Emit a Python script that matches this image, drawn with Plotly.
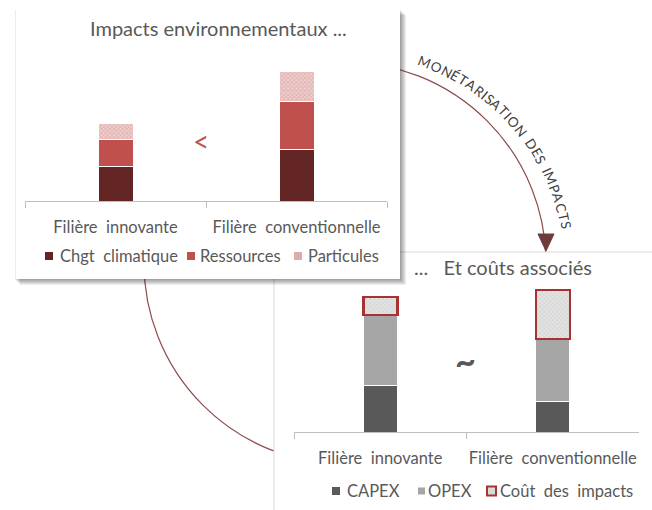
import math
import plotly.graph_objects as go

# ---------------- data ----------------
categories = ["Filière innovante", "Filière conventionnelle"]

impact_names = ["Chgt climatique", "Ressources", "Particules"]
chgt_climatique = [35, 52]
ressources = [27, 48]
particules = [16, 30]

cost_names = ["CAPEX", "OPEX", "Coût des impacts"]
capex = [47, 31]
opex = [70, 62]
cout_impacts = [18, 49]

title_top = "Impacts environnementaux ..."
title_bottom = "...  Et coûts associés"
arc_label = "MONÉTARISATION DES IMPACTS"
compare_top = "<"
compare_bottom = "~"

# ---------------- helpers ----------------
W, H = 652, 510
FONT = "Lato, 'Open Sans', sans-serif"
GREY_TXT = "#595959"


def X(px):
    return px / W


def Y(py):
    return 1 - py / H


def wide(s):
    # the reference uses a wide word spacing
    return s.replace(" ", "\u00a0 ")


fig = go.Figure()

# --- top chart bars ---
top_width = 35 / 181
fig.add_trace(go.Bar(x=categories, y=chgt_climatique, name=impact_names[0],
                     marker=dict(color="#632523", line=dict(color="white", width=1)),
                     width=top_width, xaxis="x", yaxis="y", showlegend=False))
fig.add_trace(go.Bar(x=categories, y=ressources, name=impact_names[1],
                     marker=dict(color="#C0504D", line=dict(color="white", width=1)),
                     width=top_width, xaxis="x", yaxis="y", showlegend=False))
fig.add_trace(go.Bar(x=categories, y=particules, name=impact_names[2],
                     marker=dict(color="#EBC4C3", line=dict(color="white", width=1),
                                 pattern=dict(shape="x", fgcolor="#D38C8A", bgcolor="#EFD3D2",
                                              size=3, solidity=0.5)),
                     width=top_width, xaxis="x", yaxis="y", showlegend=False))

# --- bottom chart bars ---
bot_width = 34 / 172.5
fig.add_trace(go.Bar(x=categories, y=capex, name=cost_names[0],
                     marker=dict(color="#595959", line=dict(color="white", width=1)),
                     width=bot_width, xaxis="x2", yaxis="y2", showlegend=False))
fig.add_trace(go.Bar(x=categories, y=opex, name=cost_names[1],
                     marker=dict(color="#A6A6A6", line=dict(color="white", width=1)),
                     width=bot_width, xaxis="x2", yaxis="y2", showlegend=False))
fig.add_trace(go.Bar(x=categories, y=cout_impacts, name=cost_names[2],
                     marker=dict(color="#E3E3E3", line=dict(color="#A83232", width=2.5),
                                 pattern=dict(shape="x", fgcolor="#C4C4C4", bgcolor="#E6E6E6",
                                              size=3, solidity=0.5)),
                     width=bot_width, xaxis="x2", yaxis="y2", showlegend=False))

shapes = []

# --- big circular arc (partially hidden by the two boxes) ---
cx, cy, r = 345, 263, 201
shapes.append(dict(type="circle", xref="paper", yref="paper",
                   x0=X(cx - r), x1=X(cx + r), y0=Y(cy + r), y1=Y(cy - r),
                   line=dict(color="#8E4B4B", width=1.2), layer="below"))

# --- bottom box (white, light border) ---
shapes.append(dict(type="rect", xref="paper", yref="paper",
                   x0=X(274), x1=X(660), y0=Y(520), y1=Y(252),
                   fillcolor="white", line=dict(color="#D9D9D9", width=1), layer="below"))

# --- arrow head at end of arc ---
shapes.append(dict(type="path", xref="paper", yref="paper",
                   path=f"M {X(538)},{Y(234)} L {X(554)},{Y(234)} L {X(546)},{Y(251)} Z",
                   fillcolor="#6E3B3B", line=dict(color="#6E3B3B", width=1), layer="below"))

# --- top box with shadow ---
bx0, by0, bx1, by1 = 16, 10, 400, 279
for k in range(1, 7):
    shapes.append(dict(type="rect", xref="paper", yref="paper",
                       x0=X(bx0 + k - 2), x1=X(bx1 + k), y0=Y(by1 + k), y1=Y(by0 + k - 1),
                       fillcolor="rgba(0,0,0,0.07)", line=dict(width=0), layer="below"))
shapes.append(dict(type="rect", xref="paper", yref="paper",
                   x0=X(bx0), x1=X(bx1), y0=Y(by1), y1=Y(by0),
                   fillcolor="white", line=dict(width=0), layer="below"))

annotations = []


def text_at(text, px, py, size, color=GREY_TXT, xanchor="center", angle=0):
    annotations.append(dict(text=text, x=X(px), y=Y(py), xref="paper", yref="paper",
                            xanchor=xanchor, yanchor="middle", showarrow=False,
                            textangle=angle,
                            font=dict(family=FONT, size=size, color=color)))


# titles
text_at(title_top, 218, 28, 20)
text_at(title_bottom.replace("  ", "\u00a0\u00a0 "), 503, 267, 20)
# comparison signs
text_at(compare_top, 201, 141, 28, color="#C0504D")
text_at("<b>" + compare_bottom + "</b>", 465, 360, 36)


# legends (square + text)
def legend_item(sq_x0, sq_x1, yc, text_x, text, fill, line_color=None, line_w=0):
    half = (sq_x1 - sq_x0) / 2
    shapes.append(dict(type="rect", xref="paper", yref="paper",
                       x0=X(sq_x0), x1=X(sq_x1), y0=Y(yc + half), y1=Y(yc - half),
                       fillcolor=fill,
                       line=dict(color=line_color or fill, width=line_w), layer="above"))
    text_at(wide(text), text_x, yc, 16.5, xanchor="left")


legend_item(45, 53, 256, 58, impact_names[0], "#632523")
legend_item(187, 195, 256, 198, impact_names[1], "#C0504D")
legend_item(294, 302, 256, 306, impact_names[2], "#E0AAA9")
legend_item(332, 340, 491, 345, cost_names[0], "#595959")
legend_item(418, 425, 491, 426, cost_names[1], "#A6A6A6")
legend_item(487, 496, 491, 498, cost_names[2], "#D9D9D9", "#A83232", 2)

# curved label along the arc
char_w = {"M": 10.5, "O": 9.5, "N": 9.0, "É": 6.8, "E": 6.8, "T": 7.0, "A": 8.2,
          "R": 7.6, "I": 3.4, "S": 6.6, "D": 8.8, "P": 7.2, "C": 8.0, " ": 4.5}
widths = [char_w.get(c, 7.5) for c in arc_label]
centers = []
acc = 0.0
for w in widths:
    centers.append(acc + w / 2)
    acc += w
th0, th1 = -68.3, -9.7
for i, c in enumerate(arc_label):
    if c == " ":
        continue
    f = (centers[i] - centers[0]) / (centers[-1] - centers[0])
    th = th0 + f * (th1 - th0)
    rr = 216 + f * 8
    px = cx + rr * math.cos(math.radians(th))
    py = cy + rr * math.sin(math.radians(th))
    text_at(c, px, py, 13.5, color="#404040", angle=th + 90)

axis_common = dict(showline=True, linecolor="#BFBFBF", linewidth=1, ticks="outside",
                   tickson="boundaries", ticklen=6, tickcolor="#BFBFBF", showgrid=False,
                   zeroline=False, fixedrange=True, range=[-0.5, 1.5],
                   tickmode="array", tickvals=categories, tickangle=0,
                   ticktext=[wide(c) for c in categories],
                   tickfont=dict(family=FONT, size=16.5, color=GREY_TXT), ticklabelstandoff=11)

fig.update_layout(
    width=W, height=H,
    margin=dict(l=0, r=0, t=0, b=0),
    paper_bgcolor="white", plot_bgcolor="rgba(0,0,0,0)",
    barmode="stack",
    showlegend=False,
    xaxis=dict(domain=[X(25), X(387)], anchor="y", **axis_common),
    yaxis=dict(domain=[Y(201), Y(61)], anchor="x", range=[0, 140], visible=False, fixedrange=True),
    xaxis2=dict(domain=[X(294), X(639)], anchor="y2", **axis_common),
    yaxis2=dict(domain=[Y(432), Y(282)], anchor="x2", range=[0, 150], visible=False, fixedrange=True),
    shapes=shapes,
    annotations=annotations,
)

fig.write_html("out.html", config={"displayModeBar": False},
               post_script="document.body.style.margin='0';document.body.style.overflow='hidden';")
